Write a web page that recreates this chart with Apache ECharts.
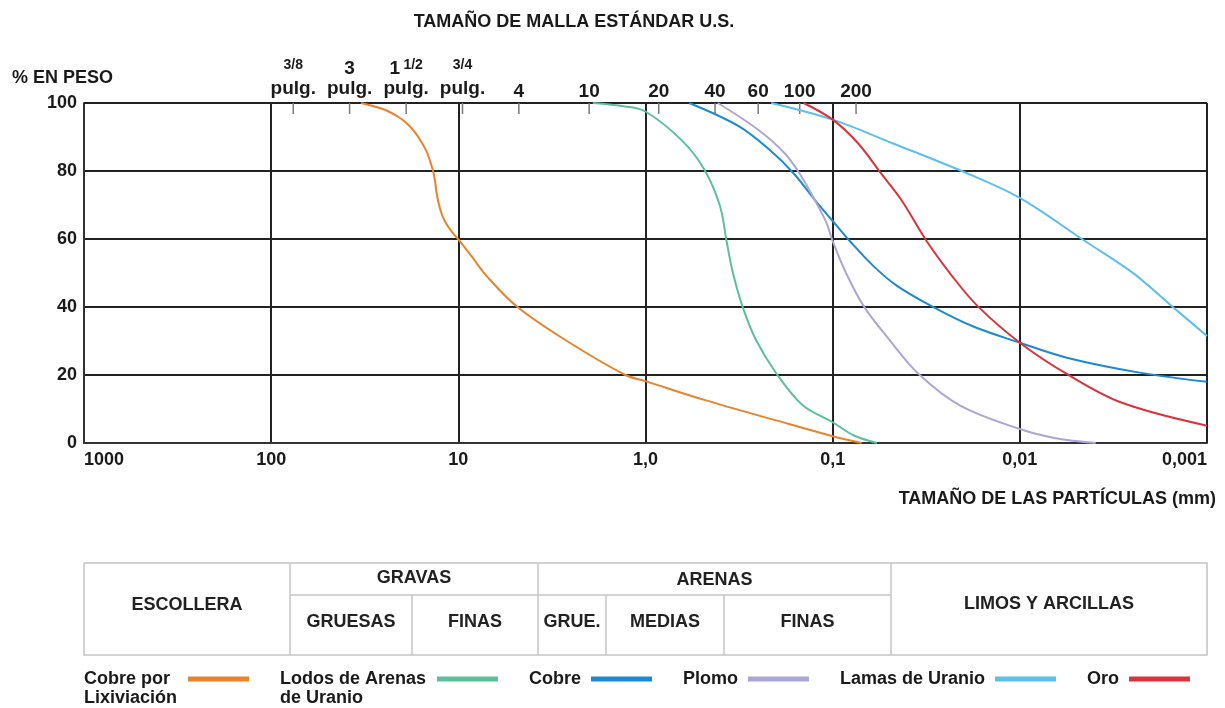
<!DOCTYPE html>
<html>
<head>
<meta charset="utf-8">
<script src="https://cdn.jsdelivr.net/npm/echarts@6/dist/echarts.min.js"></script>
<style>
  html, body { margin: 0; padding: 0; background: #ffffff; }
  #chart { width: 1225px; height: 708px; }
</style>
</head>
<body>
<div id="chart"></div>
<script>
// Grading curves: [particle size in mm, % passing by weight]
const cobreLixiviacion = [
  [33.1, 100], [24.9, 98.1], [21.2, 96.1], [19.0, 94.2], [17.0, 91.3], [15.7, 88.4],
  [14.7, 85.5], [14.1, 82.6], [13.6, 79.7], [13.3, 76.8], [13.1, 73.9], [12.8, 71.0],
  [12.4, 68.1], [11.8, 65.2], [10.9, 62.3], [10, 59.9], [8.54, 55.1], [6.98, 48.8],
  [4.83, 40], [2.68, 30.3], [1.28, 20], [1.0, 18.2], [0.48, 12.6], [0.205, 6.8],
  [0.1, 2.0], [0.07, 0]
];
const lodosArenasUranio = [
  [1.91, 100], [1.29, 99], [1.0, 97.5], [0.64, 89], [0.484, 80.4], [0.40, 69.7],
  [0.369, 59.4], [0.341, 50], [0.303, 40.1], [0.258, 30.5], [0.199, 20.3],
  [0.144, 11], [0.1, 6.1], [0.077, 2.2], [0.058, 0]
];
const cobre = [
  [0.584, 100], [0.318, 93.2], [0.218, 86.3], [0.161, 79.2], [0.125, 71.6],
  [0.1, 65.3], [0.081, 59.4], [0.0607, 52.1], [0.0453, 46.2], [0.0293, 40.1],
  [0.018, 34.4], [0.01, 29.5], [0.00561, 25.1], [0.00229, 20.7], [0.001, 18]
];
const plomo = [
  [0.411, 100], [0.251, 92.2], [0.181, 85.3], [0.150, 79.2], [0.125, 71.6],
  [0.108, 64.8], [0.1, 59.4], [0.085, 50.1], [0.068, 40.1], [0.050, 30.5],
  [0.0347, 20.3], [0.0208, 11], [0.01, 4.1], [0.00643, 1.4], [0.00393, 0]
];
const lamasUranio = [
  [0.213, 100], [0.1, 95.1], [0.0475, 88.1], [0.0189, 79.2], [0.01, 72.1],
  [0.00449, 59.4], [0.0025, 50.1], [0.00153, 40.1], [0.001, 31.5]
];
const oro = [
  [0.143, 100], [0.1, 95.1], [0.0736, 88.3], [0.055, 79.2], [0.0431, 71.6],
  [0.0315, 59.4], [0.023, 49.1], [0.0167, 40.1], [0.01, 29.5], [0.00561, 20.3],
  [0.00287, 11.9], [0.001, 5.1]
];

const seriesNames = ['Cobre por\nLixiviación', 'Lodos de Arenas\nde Uranio', 'Cobre', 'Plomo', 'Lamas de Uranio', 'Oro'];
const seriesData = [cobreLixiviacion, lodosArenasUranio, cobre, plomo, lamasUranio, oro];
const seriesColors = ['#E8832E', '#5DBF9B', '#1C8AD2', '#ABA7D4', '#5CC0EB', '#D9333C'];

// U.S. standard sieve openings (mm) and their labels along the top edge
const sieveSizes = [76.2, 38.1, 19.0, 9.5, 4.75, 2.0, 0.85, 0.425, 0.25, 0.15, 0.075];
const sieveLabels = [
  '{f|3/8}\n{p|pulg.}', '{b|3}\n{p|pulg.}', '{b|1} {s|1/2}\n{p|pulg.}', '{f|3/4}\n{p|pulg.}',
  '{n|4}', '{n|10}', '{n|20}', '{n|40}', '{n|60}', '{n|100}', '{n|200}'
];

// x axis tick labels keyed by decade
const xTickLabels = { '1000': '1000', '100': '100', '10': '10', '1': '1,0', '0.1': '0,1', '0.01': '0,01', '0.001': '0,001' };

// Soil classification table below the chart
const tableTop = ['ESCOLLERA', 'GRAVAS', 'ARENAS', 'LIMOS Y ARCILLAS'];
const tableSub = ['GRUESAS', 'FINAS', 'GRUE.', 'MEDIAS', 'FINAS'];

const FONT = 'Liberation Sans, Arial, sans-serif';
const INK = '#1a1a1a';
const FS = 18;

const chart = echarts.init(document.getElementById('chart'), null, { renderer: 'canvas' });

// measure legend text so multi-line names stay left-aligned inside their block
const measureCtx = document.createElement('canvas').getContext('2d');
measureCtx.font = 'bold ' + FS + 'px ' + FONT;
const legendRich = {};
seriesNames.forEach((n, i) => {
  const w = Math.ceil(Math.max.apply(null, n.split('\n').map(l => measureCtx.measureText(l).width)));
  legendRich['w' + i] = { width: w, align: 'left', fontSize: FS, fontWeight: 'bold', fontFamily: FONT, color: INK, lineHeight: 19 };
});

const curveSeries = seriesNames.map((name, i) => ({
  name: name,
  type: 'line',
  data: seriesData[i],
  smooth: 0.35,
  showSymbol: false,
  symbol: 'none',
  color: seriesColors[i],
  lineStyle: { width: 2, color: seriesColors[i] },
  z: 3
}));

// Table drawing
const tX = [84, 290, 412, 538, 606, 724, 891, 1207];
const tY0 = 563, tY1 = 595, tY2 = 655;
const lineStyle = { stroke: '#c4c4c4', lineWidth: 1.5 };
const tableGraphics = [];
tableGraphics.push({ type: 'rect', shape: { x: tX[0], y: tY0, width: tX[7] - tX[0], height: tY2 - tY0 }, style: { fill: 'none', stroke: '#c4c4c4', lineWidth: 1.5 } });
[1, 3, 6].forEach(k => tableGraphics.push({ type: 'line', shape: { x1: tX[k], y1: tY0, x2: tX[k], y2: tY2 }, style: lineStyle }));
[2, 4, 5].forEach(k => tableGraphics.push({ type: 'line', shape: { x1: tX[k], y1: tY1, x2: tX[k], y2: tY2 }, style: lineStyle }));
tableGraphics.push({ type: 'line', shape: { x1: tX[1], y1: tY1, x2: tX[6], y2: tY1 }, style: lineStyle });
const txt = (s, cx, cy) => ({ type: 'text', x: cx, y: cy, style: { text: s, font: 'bold ' + FS + 'px ' + FONT, fill: '#222', align: 'center', verticalAlign: 'middle' } });
tableGraphics.push(txt(tableTop[0], (tX[0] + tX[1]) / 2, 605));
tableGraphics.push(txt(tableTop[1], (tX[1] + tX[3]) / 2, 578));
tableGraphics.push(txt(tableTop[2], (tX[3] + tX[6]) / 2, 580));
tableGraphics.push(txt(tableTop[3], (tX[6] + tX[7]) / 2, 604));
for (let k = 0; k < tableSub.length; k++) {
  tableGraphics.push(txt(tableSub[k], (tX[k + 1] + tX[k + 2]) / 2, 622));
}

const titleStyle = { fontFamily: FONT, fontWeight: 'bold', fontSize: FS, color: INK };

const option = {
  backgroundColor: '#ffffff',
  animation: false,
  title: [
    { text: 'TAMAÑO DE MALLA ESTÁNDAR U.S.', left: 569, top: 8, textAlign: 'center', textStyle: titleStyle },
    { text: '% EN PESO', left: 7, top: 64, textStyle: titleStyle },
    { text: 'TAMAÑO DE LAS PARTÍCULAS (mm)', right: 4, top: 485, textStyle: titleStyle }
  ],
  grid: { left: 84, right: 18, top: 103, bottom: 265, containLabel: false, show: false },
  legend: {
    data: seriesNames,
    formatter: name => {
      const i = seriesNames.indexOf(name);
      const lines = name.split('\n');
      if (lines.length === 1) return name;
      // a blank first line keeps the swatch level with the first line of text
      return ['{w' + i + '|\u00a0}'].concat(lines.map(l => '{w' + i + '|' + l + '}')).join('\n');
    },
    left: 84,
    top: 651,
    padding: 0,
    align: 'right',
    icon: 'rect',
    itemWidth: 61,
    itemHeight: 5,
    itemGap: 31,
    selectedMode: false,
    textStyle: { fontFamily: FONT, fontWeight: 'bold', fontSize: FS, color: INK, padding: [0, 5, 0, 0], rich: legendRich }
  },
  xAxis: {
    type: 'log',
    logBase: 10,
    min: 0.001,
    max: 1000,
    inverse: true,
    axisLine: { show: true, lineStyle: { color: '#333', width: 2 } },
    axisTick: { show: false },
    splitLine: { show: true, lineStyle: { color: '#222', width: 2 } },
    minorSplitLine: { show: false },
    axisLabel: {
      color: INK, fontFamily: FONT, fontWeight: 'bold', fontSize: FS, margin: 8,
      alignMinLabel: 'right', alignMaxLabel: 'left',
      formatter: v => xTickLabels[String(+v.toPrecision(6))] || ''
    }
  },
  yAxis: {
    type: 'value',
    min: 0,
    max: 100,
    interval: 20,
    axisLine: { show: true, lineStyle: { color: '#333', width: 2 } },
    axisTick: { show: false },
    splitLine: { show: true, lineStyle: { color: '#222', width: 2 } },
    axisLabel: { color: INK, fontFamily: FONT, fontWeight: 'bold', fontSize: FS, margin: 7 }
  },
  graphic: [
    // right and top frame of the plot area
    { type: 'line', shape: { x1: 84, y1: 103, x2: 1207, y2: 103 }, style: { stroke: '#222', lineWidth: 2 }, z: 1 },
    { type: 'line', shape: { x1: 1207, y1: 103, x2: 1207, y2: 443 }, style: { stroke: '#222', lineWidth: 2 }, z: 1 }
  ].concat(tableGraphics),
  series: curveSeries.concat([
    {
      name: 'tamices',
      type: 'scatter',
      data: sieveSizes.map(s => [s, 100]),
      symbol: 'rect',
      symbolSize: [1.5, 11],
      symbolOffset: [0, 5.5],
      itemStyle: { color: '#7a7a7a', opacity: 1 },
      silent: true,
      z: 2
    },
    {
      name: 'tamices-etiquetas',
      type: 'scatter',
      data: sieveSizes.map((s, i) => ({ value: [s, 100], label: { formatter: sieveLabels[i] } })),
      symbolSize: 0,
      itemStyle: { opacity: 1 },
      silent: true,
      label: {
        show: true,
        position: 'top',
        distance: 4,
        color: INK,
        fontFamily: FONT,
        fontWeight: 'bold',
        align: 'center',
        rich: {
          p: { fontSize: 19, fontWeight: 'bold', fontFamily: FONT, color: INK, lineHeight: 20 },
          n: { fontSize: 19, fontWeight: 'bold', fontFamily: FONT, color: INK, lineHeight: 14 },
          f: { fontSize: 14, fontWeight: 'bold', fontFamily: FONT, color: INK, lineHeight: 21, verticalAlign: 'top' },
          b: { fontSize: 19, fontWeight: 'bold', fontFamily: FONT, color: INK, lineHeight: 21 },
          s: { fontSize: 14, fontWeight: 'bold', fontFamily: FONT, color: INK, lineHeight: 21, verticalAlign: 'top' }
        }
      }
    }
  ])
};

chart.setOption(option);
</script>
</body>
</html>
